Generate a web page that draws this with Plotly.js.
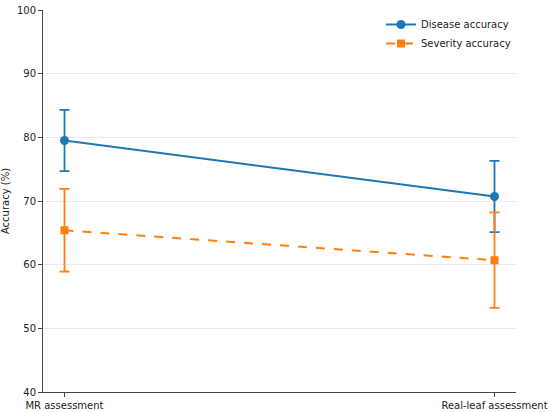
<!DOCTYPE html>
<html><head><meta charset="utf-8">
<script src="https://cdn.plot.ly/plotly-3.0.1.min.js"></script>
<style>html,body{margin:0;padding:0;background:#fff}#c{width:550px;height:412px}</style>
</head><body><div id="c"></div>
<script>
const categories = ["MR assessment", "Real-leaf assessment"];
const diseaseAcc = [79.5, 70.7];
const diseaseErr = [4.8, 5.6];
const severityAcc = [65.4, 60.7];
const severityErr = [6.5, 7.5];
const yTicks = [40, 50, 60, 70, 80, 90, 100];

const font = {family: "DejaVu Sans, sans-serif", size: 10, color: "#222"};
const traces = [
  {x: [0, 1], y: diseaseAcc, name: "Disease accuracy", type: "scatter", mode: "lines+markers",
   line: {color: "#1f77b4", width: 2}, marker: {symbol: "circle", size: 9, color: "#1f77b4"},
   error_y: {type: "data", array: diseaseErr, visible: true, color: "#1f77b4", thickness: 1.8, width: 5}},
  {x: [0, 1], y: severityAcc, name: "Severity accuracy", type: "scatter", mode: "lines+markers",
   line: {color: "#ff7f0e", width: 2, dash: "dash"}, marker: {symbol: "square", size: 8, color: "#ff7f0e"},
   error_y: {type: "data", array: severityErr, visible: true, color: "#ff7f0e", thickness: 1.8, width: 5}}
];
const layout = {
  width: 550, height: 412,
  margin: {l: 43, r: 34, t: 10, b: 20},
  paper_bgcolor: "#fff", plot_bgcolor: "#fff",
  font: font,
  showlegend: true,
  legend: {x: 1.0, y: 1.0, xanchor: "right", yanchor: "top", bgcolor: "rgba(0,0,0,0)", font: font, tracegroupgap: 0, itemwidth: 30},
  xaxis: {range: [-0.05, 1.05], tickmode: "array", tickvals: [0, 1], ticktext: categories,
    showline: true, linecolor: "#444", linewidth: 1, ticks: "outside", ticklen: 4, tickcolor: "#444",
    showgrid: false, zeroline: false, tickfont: font, ticklabeloverflow: "allow", automargin: false},
  yaxis: {range: [40, 100], tickmode: "array", tickvals: yTicks, ticktext: yTicks.map(String),
    showline: true, linecolor: "#444", linewidth: 1, ticks: "outside", ticklen: 4, tickcolor: "#444",
    showgrid: true, gridcolor: "#ebebeb", gridwidth: 1, zeroline: false, tickfont: font, automargin: false,
    title: {text: "Accuracy (%)", font: font, standoff: 10}}
};
Plotly.newPlot("c", traces, layout, {displayModeBar: false, staticPlot: true});
</script></body></html>
